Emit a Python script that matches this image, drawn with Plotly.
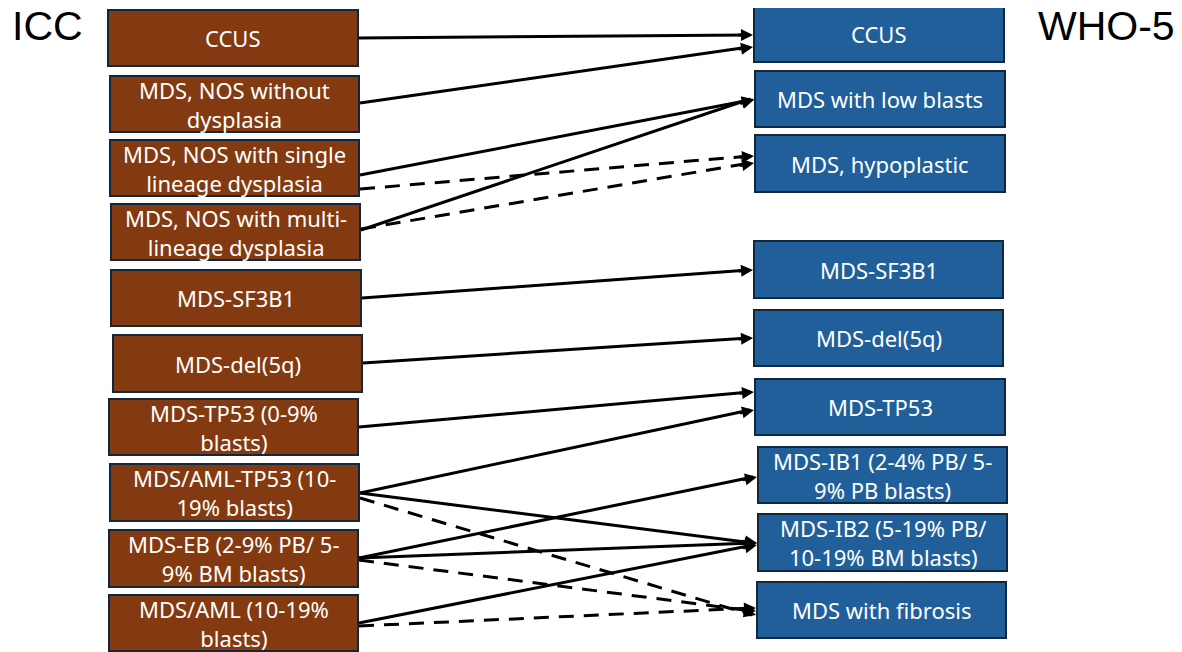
import math
import plotly.graph_objects as go

# ---------------- data ----------------
left_title = "ICC"
right_title = "WHO-5"
left_labels = [
    "CCUS",
    "MDS, NOS without<br>dysplasia",
    "MDS, NOS with single<br>lineage dysplasia",
    "MDS, NOS with multi-<br>lineage dysplasia",
    "MDS-SF3B1",
    "MDS-del(5q)",
    "MDS-TP53 (0-9%<br>blasts)",
    "MDS/AML-TP53 (10-<br>19% blasts)",
    "MDS-EB (2-9% PB/ 5-<br>9% BM blasts)",
    "MDS/AML (10-19%<br>blasts)",
]
right_labels = [
    "CCUS",
    "MDS with low blasts",
    "MDS, hypoplastic",
    "MDS-SF3B1",
    "MDS-del(5q)",
    "MDS-TP53",
    "MDS-IB1 (2-4% PB/ 5-<br>9% PB blasts)",
    "MDS-IB2 (5-19% PB/<br>10-19% BM blasts)",
    "MDS with fibrosis",
]
link_source = [0, 1, 2, 2, 3, 3, 4, 5, 6, 7, 7, 7, 8, 8, 8, 9, 9]
link_target = [0, 0, 1, 2, 1, 2, 3, 4, 5, 5, 7, 8, 6, 7, 8, 7, 8]
link_kind = ["solid", "solid", "solid", "dash", "solid", "dash", "solid", "solid",
             "solid", "solid", "solid", "dash", "solid", "solid", "dash", "solid", "dash"]

# ---------------- layout geometry (page pixels) ----------------
PAGE_W, PAGE_H = 1182, 652
OFF = 8  # default page body margin
left_boxes = [
    (108, 10, 358, 66), (110, 76, 359, 132), (110, 140, 359, 196), (111, 204, 360, 260),
    (111, 270, 361, 326), (113, 335, 362, 392), (109, 399, 358, 455), (110, 464, 359, 521),
    (109, 530, 358, 587), (109, 595, 358, 651),
]
right_boxes = [
    (754, 5, 1004, 62), (755, 71, 1005, 127), (755, 135, 1005, 192), (754, 241, 1003, 298),
    (754, 310, 1003, 366), (755, 379, 1005, 435), (758, 447, 1007, 503), (758, 514, 1007, 571),
    (757, 582, 1006, 638),
]
link_start_y = [38, 103, 175, 189, 230, 229, 298, 363, 427, 493, 493, 498, 558, 558, 560, 623, 626]
link_end_y = [35, 47, 100, 156, 99, 163, 270, 338, 392, 410, 543, 615, 477, 543, 611, 545, 608]

BROWN = "#843A10"
BLUE = "#215F9A"
EDGE = "#10283F"
BOX_FONT = "Noto Sans, Open Sans, sans-serif"

fig = go.Figure()
shapes = []
annotations = []

for boxes, labels, color in ((left_boxes, left_labels, BROWN), (right_boxes, right_labels, BLUE)):
    for (x0, y0, x1, y1), lab in zip(boxes, labels):
        shapes.append(dict(type="rect", x0=x0, y0=y0, x1=x1, y1=y1, xref="x", yref="y",
                           fillcolor=color, line=dict(color=EDGE, width=2), layer="below"))
        annotations.append(dict(x=(x0 + x1) / 2, y=(y0 + y1) / 2, xref="x", yref="y",
                                text=lab, showarrow=False, align="center",
                                font=dict(family=BOX_FONT, size=22, color="white")))

for s, t, kind, ys, ye in zip(link_source, link_target, link_kind, link_start_y, link_end_y):
    xs = left_boxes[s][2] + 1
    xe = right_boxes[t][0] - 1
    fig.add_trace(go.Scatter(
        x=[xs, xe - 4], y=[ys, ye], mode="lines",
        line=dict(color="black", width=3, dash="solid" if kind == "solid" else "15px,10px"),
        hoverinfo="skip", showlegend=False,
    ))
    # arrow head: short annotation arrow along the same direction
    L = math.hypot(xe - xs, ye - ys)
    d = 16
    annotations.append(dict(
        x=xe, y=ye, ax=xe - d * (xe - xs) / L, ay=ye - d * (ye - ys) / L,
        xref="x", yref="y", axref="x", ayref="y", text="", showarrow=True,
        arrowhead=2, arrowsize=0.8, arrowwidth=3, arrowcolor="black", standoff=0,
    ))

annotations.append(dict(x=10, y=26, xref="x", yref="y", text=left_title, showarrow=False,
                        xanchor="left", yanchor="middle",
                        font=dict(family="Liberation Sans, Arial", size=41, color="black")))
annotations.append(dict(x=1177, y=26, xref="x", yref="y", text=right_title, showarrow=False,
                        xanchor="right", yanchor="middle",
                        font=dict(family="Liberation Sans, Arial", size=41, color="black")))

fig.update_layout(
    width=PAGE_W - OFF, height=PAGE_H - OFF, margin=dict(l=0, r=0, t=0, b=0),
    paper_bgcolor="white", plot_bgcolor="white",
    xaxis=dict(range=[OFF, PAGE_W], visible=False, fixedrange=True),
    yaxis=dict(range=[PAGE_H, OFF], visible=False, fixedrange=True),
    shapes=shapes, annotations=annotations, showlegend=False,
)

fig.write_html("out.html")
